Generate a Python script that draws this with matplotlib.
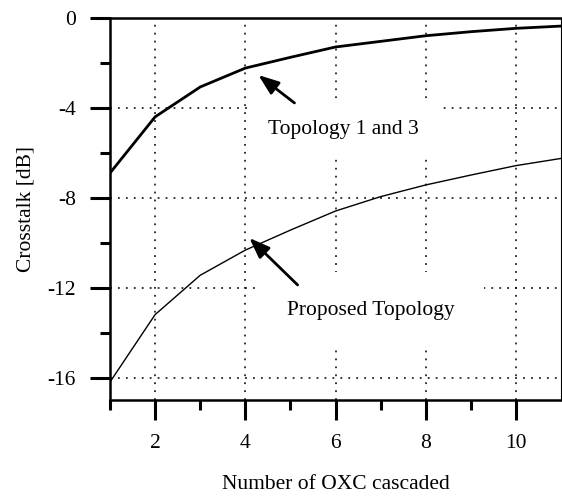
import numpy as np
import matplotlib
matplotlib.use("Agg")
import matplotlib.pyplot as plt
from matplotlib.ticker import FixedLocator

plt.rcParams['font.family'] = ['Liberation Serif', 'DejaVu Serif']
plt.rcParams['font.size'] = 15.5

# Crosstalk vs. number of cascaded OXCs
n_oxc = [1, 2, 3, 4, 5, 6, 7, 8, 9, 10, 11]
topology_13 = [-6.9, -4.4, -3.07, -2.23, -1.75, -1.29, -1.04, -0.79, -0.61, -0.46, -0.36]
proposed = [-16.2, -13.2, -11.45, -10.33, -9.44, -8.59, -7.95, -7.43, -6.99, -6.57, -6.25]

x_major = [2, 4, 6, 8, 10]
x_minor = [1, 3, 5, 7, 9]
y_major = [0, -4, -8, -12, -16]
y_minor = [-2, -6, -10, -14]

fig = plt.figure(figsize=(5.62, 4.99), dpi=100)
ax = fig.add_axes([110 / 562, 1 - 400 / 499, 451 / 562, 382 / 499])

ax.plot(n_oxc, topology_13, color='black', lw=2.0, zorder=2)
ax.plot(n_oxc, proposed, color='black', lw=1.0, zorder=2)

ax.set_xlim(1, 11)
ax.set_ylim(-17, 0)

ax.xaxis.set_major_locator(FixedLocator(x_major))
ax.xaxis.set_minor_locator(FixedLocator(x_minor))
ax.yaxis.set_major_locator(FixedLocator(y_major))
ax.yaxis.set_minor_locator(FixedLocator(y_minor))
ax.set_yticklabels([str(v) for v in y_major])

ax.tick_params(which='major', direction='out', length=14.4, width=2.2, pad=10)
ax.tick_params(which='minor', direction='out', length=7.2, width=2.2)
ax.tick_params(axis='x', which='major', pad=10)

for side in ['left', 'bottom', 'top']:
    ax.spines[side].set_linewidth(1.8)
ax.spines['right'].set_linewidth(0.8)

ax.set_axisbelow(True)
ax.grid(True, which='major', color='black', lw=1.1, linestyle=(0, (1.2, 4)))

ax.set_xlabel('Number of OXC cascaded', labelpad=16)
ax.set_ylabel('Crosstalk [dB]', labelpad=9)

# labels with white boxes that blank out the grid behind them
ax.text(6.18, -4.94, 'Topology 1 and 3', ha='center', va='center', zorder=3,
        bbox=dict(boxstyle='square,pad=0.95', fc='white', ec='none'))
ax.text(6.79, -13.0, 'Proposed Topology', ha='center', va='center', zorder=3,
        bbox=dict(boxstyle='square,pad=1.35', fc='white', ec='none'))

arrow = dict(arrowstyle='-|>,head_length=0.8,head_width=0.3', color='black', lw=2.0,
             shrinkA=0, shrinkB=0)
ax.annotate('', xy=(4.29, -2.54), xytext=(5.09, -3.78), arrowprops=arrow, zorder=4)
ax.annotate('', xy=(4.09, -9.79), xytext=(5.16, -11.88), arrowprops=arrow, zorder=4)

fig.savefig('out.png', dpi=100)
